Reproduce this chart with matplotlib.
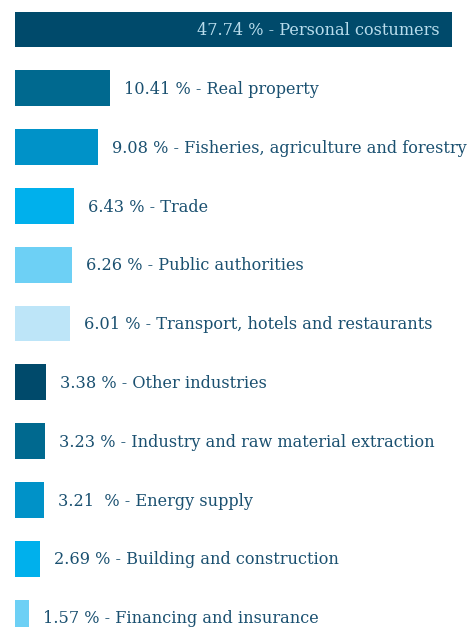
import matplotlib
matplotlib.use('Agg')
import matplotlib.pyplot as plt

# Credit exposure by sector (%)
sectors = ['Personal costumers', 'Real property', 'Fisheries, agriculture and forestry',
           'Trade', 'Public authorities', 'Transport, hotels and restaurants',
           'Other industries', 'Industry and raw material extraction', 'Energy supply',
           'Building and construction', 'Financing and insurance']
shares = [47.74, 10.41, 9.08, 6.43, 6.26, 6.01, 3.38, 3.23, 3.21, 2.69, 1.57]
share_text = ['47.74 %', '10.41 %', '9.08 %', '6.43 %', '6.26 %', '6.01 %',
              '3.38 %', '3.23 %', '3.21  %', '2.69 %', '1.57 %']
palette = ['#004a6b', '#00698f', '#0092c8', '#00b0ec', '#6dd0f5', '#bde5f8']

text_color = '#1a5070'
plt.rcParams['font.family'] = ['DejaVu Serif']

fig = plt.figure(figsize=(4.73, 6.27), dpi=100)
ax = fig.add_axes([0, 0, 1, 1])

px = 9.154  # pixels per percent
ypos = list(range(len(shares)))
colors = [palette[i % len(palette)] for i in ypos]
ax.barh(ypos, shares, height=0.612, color=colors, left=0)

for i, (v, t, s) in enumerate(zip(shares, share_text, sectors)):
    label = f'{t} - {s}'
    if i == 0:
        ax.text(v - 12 / px, i + 0.02, label, ha='right', va='center',
                color='#b8dcec', fontsize=11.6)
    else:
        ax.text(v + 14 / px, i + 0.02, label, ha='left', va='center',
                color=text_color, fontsize=11.6)

ax.set_xlim(-15 / px, (473 - 15) / px)
ax.set_ylim((627 - 29.5) / 58.8, -29.5 / 58.8)
ax.axis('off')

fig.savefig('out.png', dpi=100)
